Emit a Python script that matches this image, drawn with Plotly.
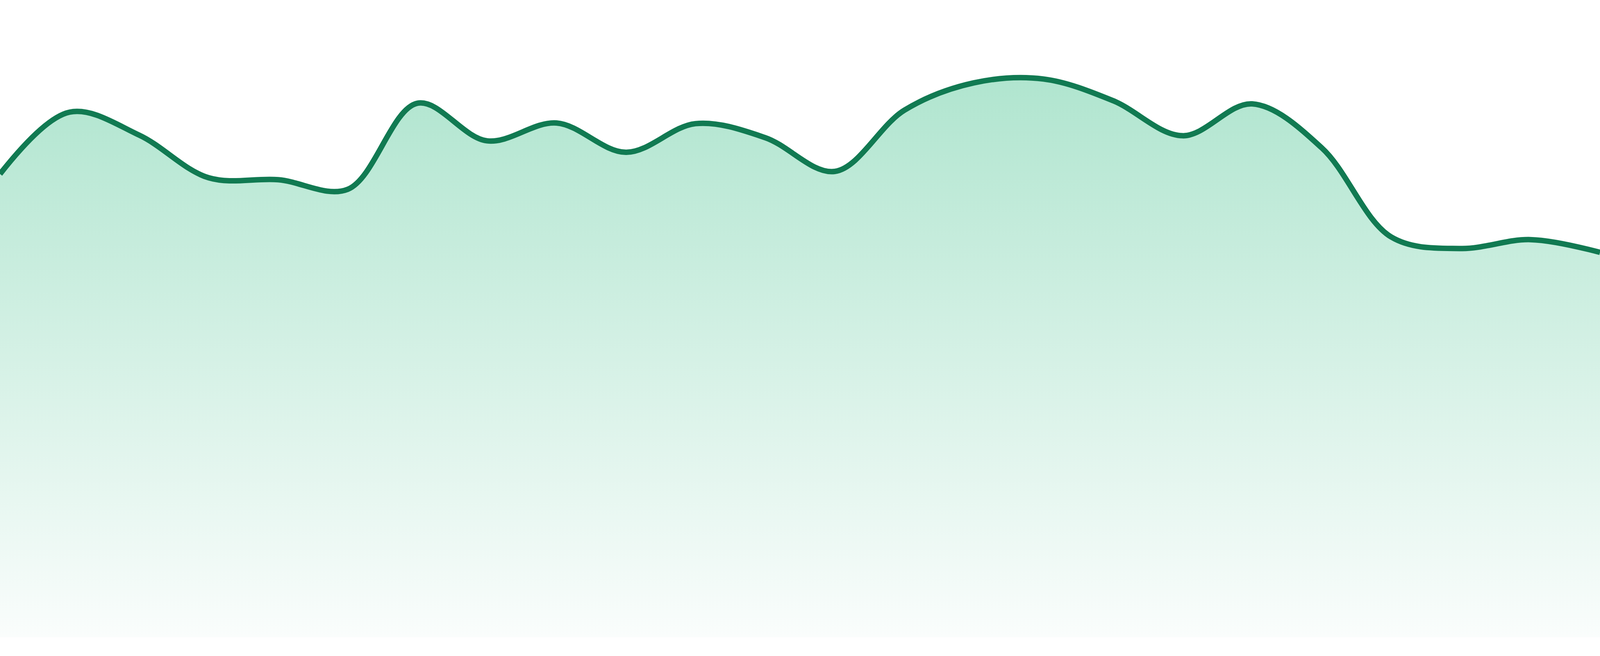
import plotly.graph_objects as go

# one value per period (no axes shown)
periods = list(range(24))
values = [72.7, 82.4, 78.8, 72.1, 71.8, 70.3, 83.8, 77.9, 80.7, 76.1, 80.6, 78.4,
          73.1, 82.7, 87.0, 87.6, 84.2, 78.7, 83.7, 76.8, 62.8, 61.0, 62.4, 60.4]

line_color = "#117a52"
fill_top = "#b0e5cf"
fill_bottom = "rgb(250,253,252)"

trace = go.Scatter(
    x=periods,
    y=values,
    mode="lines",
    line=dict(color=line_color, width=14, shape="spline", smoothing=1),
    fill="tozeroy",
    fillgradient=dict(type="vertical", colorscale=[[0, fill_bottom], [1, fill_top]]),
    hoverinfo="skip",
)

fig = go.Figure([trace])
# size follows the browser window
fig.update_layout(
    autosize=True,
    margin=dict(l=0, r=0, t=0, b=48),
    paper_bgcolor="white",
    plot_bgcolor="white",
    showlegend=False,
    xaxis=dict(range=[0, 23], visible=False, showgrid=False, zeroline=False),
    yaxis=dict(range=[0, 100], visible=False, showgrid=False, zeroline=False),
)
fig.write_html("out.html", config={"displayModeBar": False, "responsive": True},
               default_width="100vw", default_height="100vh",
               post_script="document.body.style.margin='0';document.body.style.overflow='hidden';"
                           "Plotly.Plots.resize(document.getElementById('{plot_id}'));")
